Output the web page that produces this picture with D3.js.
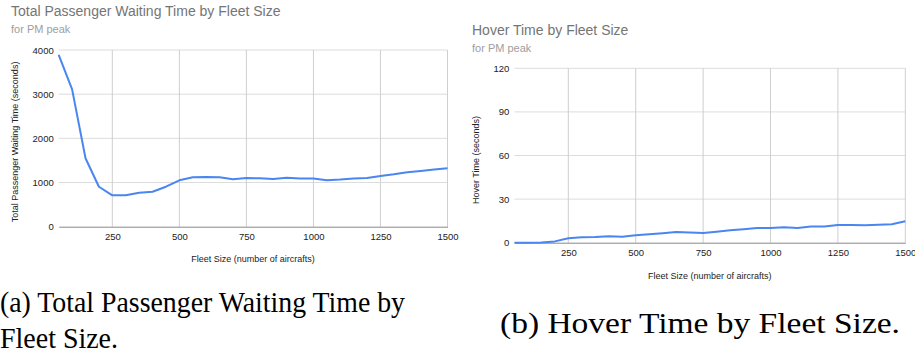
<!DOCTYPE html>
<html>
<head>
<meta charset="utf-8">
<script src="https://cdn.jsdelivr.net/npm/d3@7"></script>
<style>
    body { margin: 0; background: #fff; }
</style>
</head>
<body>
<svg id="chart" width="915" height="360"></svg>
<script>
// 数据
var fleetSizes = [50, 100, 150, 200, 250, 300, 350, 400, 450, 500, 550, 600, 650, 700, 750,
    800, 850, 900, 950, 1000, 1050, 1100, 1150, 1200, 1250, 1300, 1350, 1400, 1450, 1500];
var waitTimes = [3890, 3110, 1550, 905, 710, 710, 770, 792, 905, 1050, 1120, 1127, 1120, 1075, 1104,
    1095, 1080, 1110, 1090, 1090, 1052, 1066, 1090, 1104, 1150, 1188, 1233, 1263, 1293, 1323];
var hoverTimes = [0, 0, 0.2, 0.9, 3.0, 3.7, 3.9, 4.4, 4.1, 5.1, 5.8, 6.5, 7.4, 7.1, 6.7,
    7.6, 8.5, 9.2, 10.1, 10.1, 10.6, 10.1, 11.1, 11.1, 12.2, 12.2, 12.0, 12.4, 12.7, 14.7];
var xTicks = [250, 500, 750, 1000, 1250, 1500];
var waitTicks = [0, 1000, 2000, 3000, 4000];
var hoverTicks = [0, 30, 60, 90, 120];

var sans = '"Liberation Sans", Arial, sans-serif';
var serif = '"Times New Roman", "Liberation Serif", Times, serif';

var svg = d3.select('#chart');

function drawPanel(opt) {
    var g = svg.append('g');

    var xScale = d3.scaleLinear()
        .domain([50, 1500])
        .range([opt.left, opt.right]);
    var yScale = d3.scaleLinear()
        .domain([0, opt.yMax])
        .range([opt.bottom, opt.top]);

    // 标题
    g.append('text')
        .attr('x', opt.titleX)
        .attr('y', opt.titleY)
        .style('font-family', sans)
        .style('font-size', '14px')
        .style('fill', '#757575')
        .text(opt.title);
    g.append('text')
        .attr('x', opt.titleX)
        .attr('y', opt.titleY + 17)
        .style('font-family', sans)
        .style('font-size', '11px')
        .style('fill', '#9e9e9e')
        .text('for PM peak');

    // 水平分割线
    g.append('g')
        .selectAll('line')
        .data(opt.yTicks.filter(function(d) { return d > 0; }))
        .enter()
        .append('line')
        .attr('x1', opt.left)
        .attr('x2', opt.right)
        .attr('y1', function(d) { return yScale(d); })
        .attr('y2', function(d) { return yScale(d); })
        .style('stroke', '#dcdcdc');

    // 竖直分割线
    g.append('g')
        .selectAll('line')
        .data(xTicks)
        .enter()
        .append('line')
        .attr('x1', function(d) { return xScale(d); })
        .attr('x2', function(d) { return xScale(d); })
        .attr('y1', opt.top)
        .attr('y2', opt.bottom)
        .style('stroke', '#cfcfcf');

    // x轴
    var xAxis = d3.axisBottom(xScale)
        .tickValues(xTicks)
        .tickFormat(d3.format('d'))
        .tickSizeInner(0)
        .tickSizeOuter(0)
        .tickPadding(7);
    var xg = g.append('g')
        .attr('transform', 'translate(0,' + opt.bottom + ')')
        .call(xAxis);
    xg.select('.domain').style('stroke', '#888');
    xg.selectAll('text')
        .style('font-family', sans)
        .style('font-size', '9.5px')
        .style('fill', '#222');

    // y轴
    var yAxis = d3.axisLeft(yScale)
        .tickValues(opt.yTicks)
        .tickFormat(d3.format('d'))
        .tickSizeInner(0)
        .tickSizeOuter(0)
        .tickPadding(5);
    var yg = g.append('g')
        .attr('transform', 'translate(' + opt.left + ',0)')
        .call(yAxis);
    yg.select('.domain').remove();
    yg.selectAll('text')
        .style('font-family', sans)
        .style('font-size', '9.5px')
        .style('fill', '#222');

    // 轴标题
    g.append('text')
        .attr('x', (opt.left + opt.right) / 2)
        .attr('y', opt.xTitleY)
        .attr('text-anchor', 'middle')
        .style('font-family', sans)
        .style('font-size', '9px')
        .style('fill', '#222')
        .text('Fleet Size (number of aircrafts)');
    g.append('text')
        .attr('transform', 'translate(' + opt.yTitleX + ',' + opt.yTitleCY + ') rotate(-90)')
        .attr('text-anchor', 'middle')
        .style('font-family', sans)
        .style('font-size', '9px')
        .style('fill', '#222')
        .text(opt.yTitle);

    // 折线
    var line = d3.line()
        .x(function(d, i) { return xScale(fleetSizes[i]); })
        .y(function(d) { return yScale(d); });
    g.append('path')
        .datum(opt.values)
        .attr('d', line)
        .style('fill', 'none')
        .style('stroke', '#4a86f0')
        .style('stroke-width', 2)
        .style('stroke-linejoin', 'round');
}

drawPanel({
    title: 'Total Passenger Waiting Time by Fleet Size',
    titleX: 11, titleY: 16,
    left: 58.7, right: 447.5, top: 50, bottom: 226.7,
    yMax: 4000, yTicks: waitTicks, values: waitTimes,
    xTitleY: 262,
    yTitle: 'Total Passenger Waiting Time (seconds)',
    yTitleX: 18, yTitleCY: 142
});

drawPanel({
    title: 'Hover Time by Fleet Size',
    titleX: 472, titleY: 35,
    left: 514.4, right: 905.3, top: 68.3, bottom: 242.7,
    yMax: 120, yTicks: hoverTicks, values: hoverTimes,
    xTitleY: 279,
    yTitle: 'Hover Time (seconds)',
    yTitleX: 479, yTitleCY: 160
});

// 图注
var captions = [
    { x: 0, y: 312, text: '(a) Total Passenger Waiting Time by', w: 405 },
    { x: 0, y: 348, text: 'Fleet Size.', w: 118 },
    { x: 500, y: 333, text: '(b) Hover Time by Fleet Size.', w: 400 }
];
svg.append('g')
    .selectAll('text')
    .data(captions)
    .enter()
    .append('text')
    .attr('x', function(d) { return d.x; })
    .attr('y', function(d) { return d.y; })
    .attr('textLength', function(d) { return d.w; })
    .attr('lengthAdjust', 'spacingAndGlyphs')
    .style('font-family', serif)
    .style('font-size', '29px')
    .style('fill', '#000')
    .text(function(d) { return d.text; });
</script>
</body>
</html>
